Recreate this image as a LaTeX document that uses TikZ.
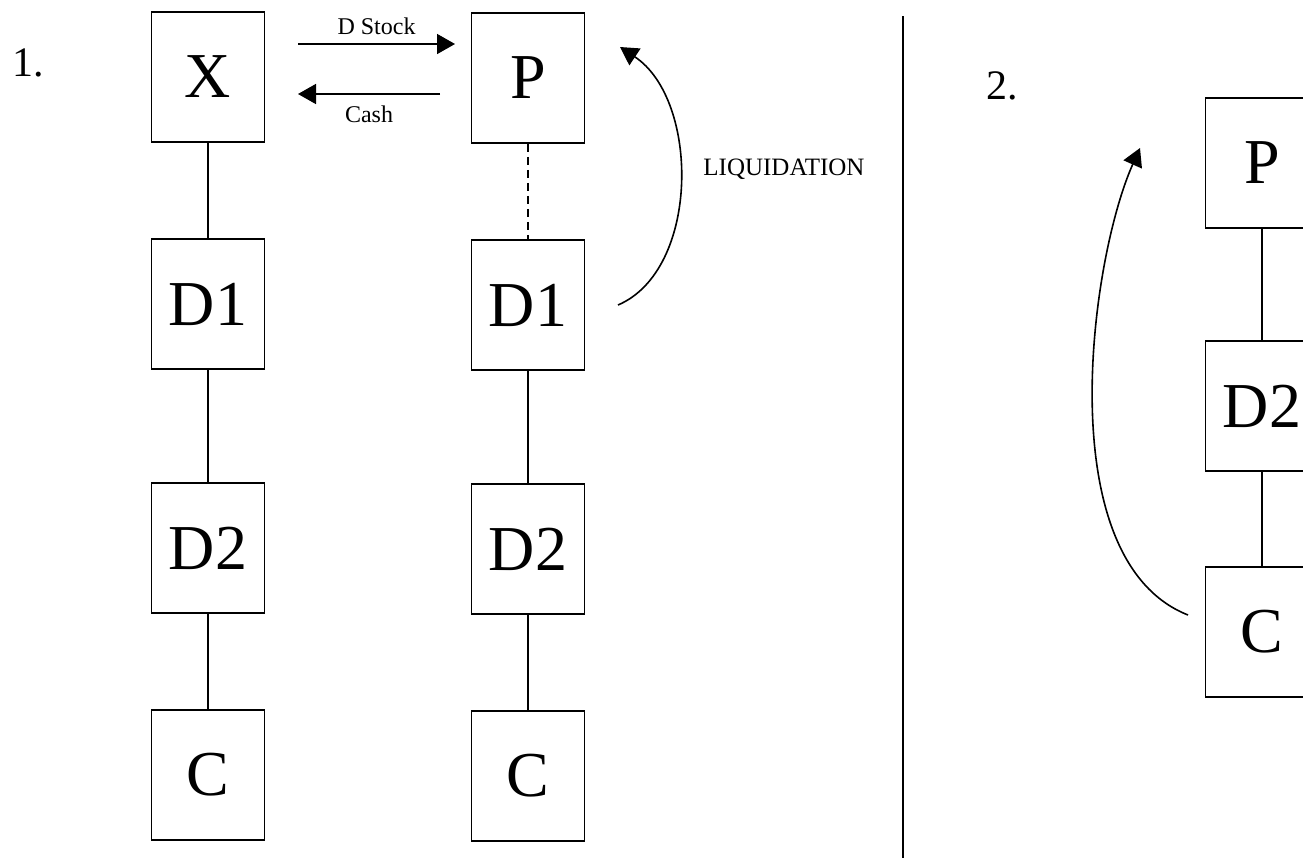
\documentclass[tikz,border=0pt]{standalone}
\usepackage{fontspec}
\setmainfont{Liberation Serif}
\usepackage{tikz}
\usetikzlibrary{arrows.meta, positioning, calc}

\begin{document}
\begin{tikzpicture}[x=0.5pt, y=-0.5pt,
  entity/.style={draw, line width=0.9pt, minimum width=56.5pt, minimum height=65pt,
    inner sep=0pt, font=\fontsize{32}{36}\selectfont},
  link/.style={line width=0.8pt},
  flow/.style={line width=0.8pt, -{Triangle[length=9pt, width=10pt]}},
  tag/.style={font=\fontsize{12}{14}\selectfont},
  num/.style={font=\fontsize{21}{24}\selectfont}]
\useasboundingbox (0,0) rectangle (1303,858);
\node[num] (one) at (28,63) {1.};
\node[num] (two) at (1002,86) {2.};
\node[entity] (x)   at (208,77)  {X};
\node[entity] (xd1) at (208,304) {D1};
\node[entity] (xd2) at (208,548) {D2};
\node[entity] (xc)  at (208,775) {C};
\node[entity] (p)   at (528,78)  {P};
\node[entity] (pd1) at (528,305) {D1};
\node[entity] (pd2) at (528,549) {D2};
\node[entity] (pc)  at (528,776) {C};
\node[entity] (q)   at (1262,163) {P};
\node[entity] (qd2) at (1262,406) {D2};
\node[entity] (qc)  at (1262,632) {C};
\draw[link] (x) -- (xd1);
\draw[link] (xd1) -- (xd2);
\draw[link] (xd2) -- (xc);
\draw[link, dash pattern=on 4pt off 2.5pt] (p) -- (pd1);
\draw[link] (pd1) -- (pd2);
\draw[link] (pd2) -- (pc);
\draw[link] (q) -- (qd2);
\draw[link] (qd2) -- (qc);
\coordinate (stock-a) at (298,44);
\coordinate (stock-b) at (455,44);
\coordinate (cash-a) at (440,94);
\coordinate (cash-b) at (298,94);
\draw[flow] (stock-a) -- (stock-b) node[tag, midway, above=1pt] (stock) {D Stock};
\draw[flow] (cash-a) -- (cash-b) node[tag, midway, below=2pt] (cash) {Cash};
\coordinate (liq-a) at (618,305);
\coordinate (liq-b) at (620,47);
\draw[flow] (liq-a) .. controls (700,270) and (700,100) .. (liq-b);
\node[tag, font=\fontsize{12.5}{14}\selectfont] (liq) at (784,169) {LIQUIDATION};
\coordinate (up-a) at (1188,615);
\coordinate (up-b) at (1140,148);
\draw[flow] (up-a) .. controls (1049,560) and (1090,260) .. (up-b);
\coordinate (div-a) at (903,16);
\coordinate (div-b) at (903,858);
\draw[link] (div-a) -- (div-b);
\end{tikzpicture}
\end{document}
